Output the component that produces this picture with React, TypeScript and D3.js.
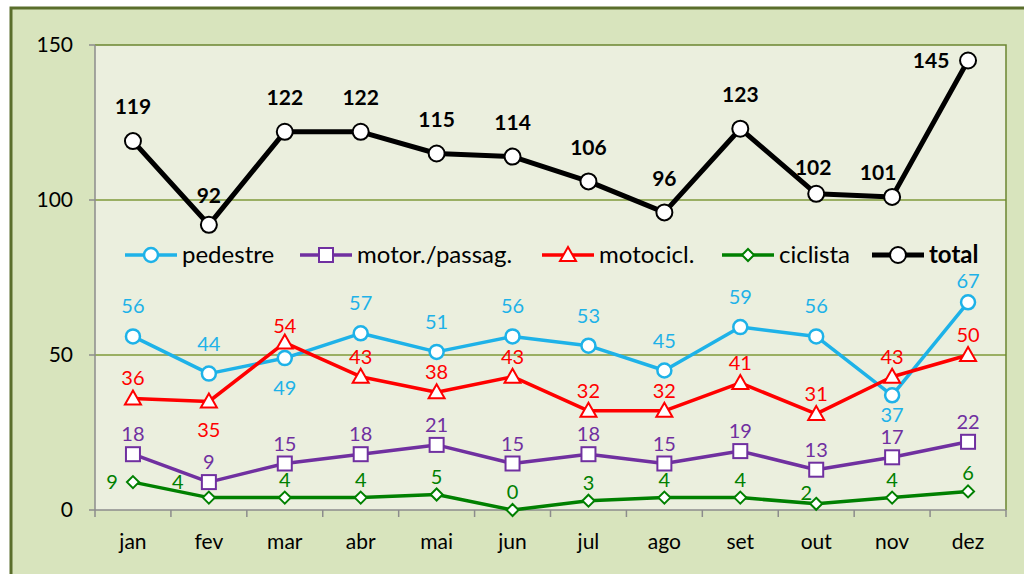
import React from 'react'
import * as d3 from 'd3'

const months = ['jan', 'fev', 'mar', 'abr', 'mai', 'jun', 'jul', 'ago', 'set', 'out', 'nov', 'dez']
const pedestre = [56, 44, 49, 57, 51, 56, 53, 45, 59, 56, 37, 67]
const motorPassag = [18, 9, 15, 18, 21, 15, 18, 15, 19, 13, 17, 22]
const motocicl = [36, 35, 54, 43, 38, 43, 32, 32, 41, 31, 43, 50]
const ciclista = [9, 4, 4, 4, 5, 0, 3, 4, 4, 2, 4, 6]
const total = [119, 92, 122, 122, 115, 114, 106, 96, 123, 102, 101, 145]
const yTicks = [0, 50, 100, 150]

// label placement per point: [dx, dy]
const pedLabel = months.map((m, i) => (i === 2 ? [0, 30] : i === 10 ? [0, 20] : i === 11 ? [0, -21] : [0, -30]))
const motoLabel = months.map((m, i) => (i === 1 ? [0, 28] : i === 2 ? [0, -17] : [0, -20]))
const motorLabel = months.map(() => [0, -20])
const cicLabel = months.map((m, i) => (i === 0 ? [-21, 0] : i === 1 ? [-31, -16] : i === 9 ? [-10, -11] : [0, -18]))
const totLabel = months.map((m, i) => (i === 11 ? [-37, 0] : i === 10 ? [-14, -24] : i === 9 ? [-3, -26] : i === 1 ? [0, -29] : [0, -34]))

const series = [
    { name: 'pedestre', values: pedestre, color: '#1eb2e8', marker: 'circle', width: 3.5, labels: pedLabel, bold: false },
    { name: 'motor./passag.', values: motorPassag, color: '#7030a0', marker: 'square', width: 3.5, labels: motorLabel, bold: false },
    { name: 'motocicl.', values: motocicl, color: '#ff0000', marker: 'triangle', width: 3.5, labels: motoLabel, bold: false },
    { name: 'ciclista', values: ciclista, color: '#008000', marker: 'diamond', width: 3.5, labels: cicLabel, bold: false },
    { name: 'total', values: total, color: '#000000', marker: 'bigcircle', width: 5, labels: totLabel, bold: true },
]

const legendPos = [125, 300, 542, 722, 872]

export default function App() {
    const ref = React.useRef<SVGSVGElement>(null)

    React.useEffect(() => {
        document.body.style.margin = '0'
        const svg = d3.select(ref.current)
        svg.selectAll('*').remove()
        const font = 'Lato, "Open Sans", sans-serif'

        // outer background
        svg.append('rect').attr('width', 1024).attr('height', 574).attr('fill', '#ffffff')
        svg.append('rect')
            .attr('x', 11).attr('y', 8).attr('width', 1030).attr('height', 580)
            .attr('fill', '#d8e4bd').attr('stroke', '#5a6e2c').attr('stroke-width', 3)

        const left = 95, right = 1006, top = 45, bottom = 510

        const x = d3.scaleBand().domain(months).range([left, right])
        const y = d3.scaleLinear().domain([0, 150]).range([bottom, top])
        const cx = (i: number) => x(months[i])! + x.bandwidth() / 2

        svg.append('rect')
            .attr('x', left).attr('y', top).attr('width', right - left).attr('height', bottom - top)
            .attr('fill', '#ebefde')

        // gridlines
        svg.selectAll('.grid')
            .data(yTicks.filter((t) => t > 0 && t < 150))
            .enter()
            .append('line')
            .attr('x1', left).attr('x2', right)
            .attr('y1', (d) => y(d)).attr('y2', (d) => y(d))
            .attr('stroke', '#7f9a3a').attr('stroke-width', 1.5)

        // top & right border
        svg.append('path')
            .attr('d', `M${left},${top}H${right}V${bottom}`)
            .attr('fill', 'none').attr('stroke', '#6b8530').attr('stroke-width', 1.5)

        // axes
        svg.append('line').attr('x1', left).attr('x2', left).attr('y1', top).attr('y2', bottom)
            .attr('stroke', '#8c8c8c').attr('stroke-width', 1.5)
        svg.append('line').attr('x1', left).attr('x2', right).attr('y1', bottom).attr('y2', bottom)
            .attr('stroke', '#8c8c8c').attr('stroke-width', 1.5)

        yTicks.forEach((t) => {
            svg.append('line').attr('x1', left - 6).attr('x2', left).attr('y1', y(t)).attr('y2', y(t))
                .attr('stroke', '#8c8c8c').attr('stroke-width', 1.5)
            svg.append('text').attr('x', left - 22).attr('y', y(t)).attr('dy', '0.35em')
                .attr('text-anchor', 'end').attr('font-family', font).attr('font-size', 21)
                .attr('fill', '#000').text(t)
        })

        months.forEach((m, i) => {
            const bx = x(m)!
            svg.append('line').attr('x1', bx).attr('x2', bx).attr('y1', bottom).attr('y2', bottom + 7)
                .attr('stroke', '#8c8c8c').attr('stroke-width', 1.5)
            svg.append('text').attr('x', cx(i)).attr('y', bottom + 39)
                .attr('text-anchor', 'middle').attr('font-family', font).attr('font-size', 21)
                .attr('fill', '#000').text(m)
        })
        svg.append('line').attr('x1', right).attr('x2', right).attr('y1', bottom).attr('y2', bottom + 7)
            .attr('stroke', '#8c8c8c').attr('stroke-width', 1.5)

        const drawMarker = (g: any, type: string, px: number, py: number, color: string) => {
            if (type === 'circle') {
                g.append('circle').attr('cx', px).attr('cy', py).attr('r', 7)
                    .attr('fill', '#fff').attr('stroke', color).attr('stroke-width', 2.5)
            } else if (type === 'bigcircle') {
                g.append('circle').attr('cx', px).attr('cy', py).attr('r', 8)
                    .attr('fill', '#fff').attr('stroke', color).attr('stroke-width', 2)
            } else if (type === 'square') {
                g.append('rect').attr('x', px - 7).attr('y', py - 7).attr('width', 14).attr('height', 14)
                    .attr('fill', '#fff').attr('stroke', color).attr('stroke-width', 2)
            } else if (type === 'triangle') {
                g.append('path').attr('d', `M${px},${py - 8}L${px + 8},${py + 6}L${px - 8},${py + 6}Z`)
                    .attr('fill', '#fff').attr('stroke', color).attr('stroke-width', 2)
            } else if (type === 'diamond') {
                g.append('path').attr('d', `M${px},${py - 6}L${px + 6},${py}L${px},${py + 6}L${px - 6},${py}Z`)
                    .attr('fill', '#fff').attr('stroke', color).attr('stroke-width', 2)
            }
        }

        const line = d3.line<number>().x((d, i) => cx(i)).y((d) => y(d))

        series.forEach((s) => {
            const g = svg.append('g')
            g.append('path').datum(s.values).attr('d', line)
                .attr('fill', 'none').attr('stroke', s.color).attr('stroke-width', s.width)
                .attr('stroke-linejoin', 'round')
            s.values.forEach((v, i) => drawMarker(g, s.marker, cx(i), y(v), s.color))
            s.values.forEach((v, i) => {
                g.append('text')
                    .attr('x', cx(i) + s.labels[i][0]).attr('y', y(v) + s.labels[i][1])
                    .attr('dy', '0.35em').attr('text-anchor', 'middle')
                    .attr('font-family', font).attr('font-size', s.bold ? 21 : 20)
                    .attr('font-weight', s.bold ? 'bold' : 'normal')
                    .attr('fill', s.bold ? '#000' : s.color).text(v)
            })
        })

        // legend
        const ly = 255
        series.forEach((s, i) => {
            const lx = legendPos[i]
            svg.append('line').attr('x1', lx).attr('x2', lx + 52).attr('y1', ly).attr('y2', ly)
                .attr('stroke', s.color).attr('stroke-width', s.width)
            drawMarker(svg, s.marker, lx + 26, ly, s.color)
            svg.append('text').attr('x', lx + 57).attr('y', ly).attr('dy', '0.35em')
                .attr('font-family', font).attr('font-size', 24)
                .attr('font-weight', s.bold ? 'bold' : 'normal')
                .attr('fill', '#000').text(s.name)
        })
    }, [])

    return <svg ref={ref} width={1024} height={574} style={{ display: 'block' }} />
}
